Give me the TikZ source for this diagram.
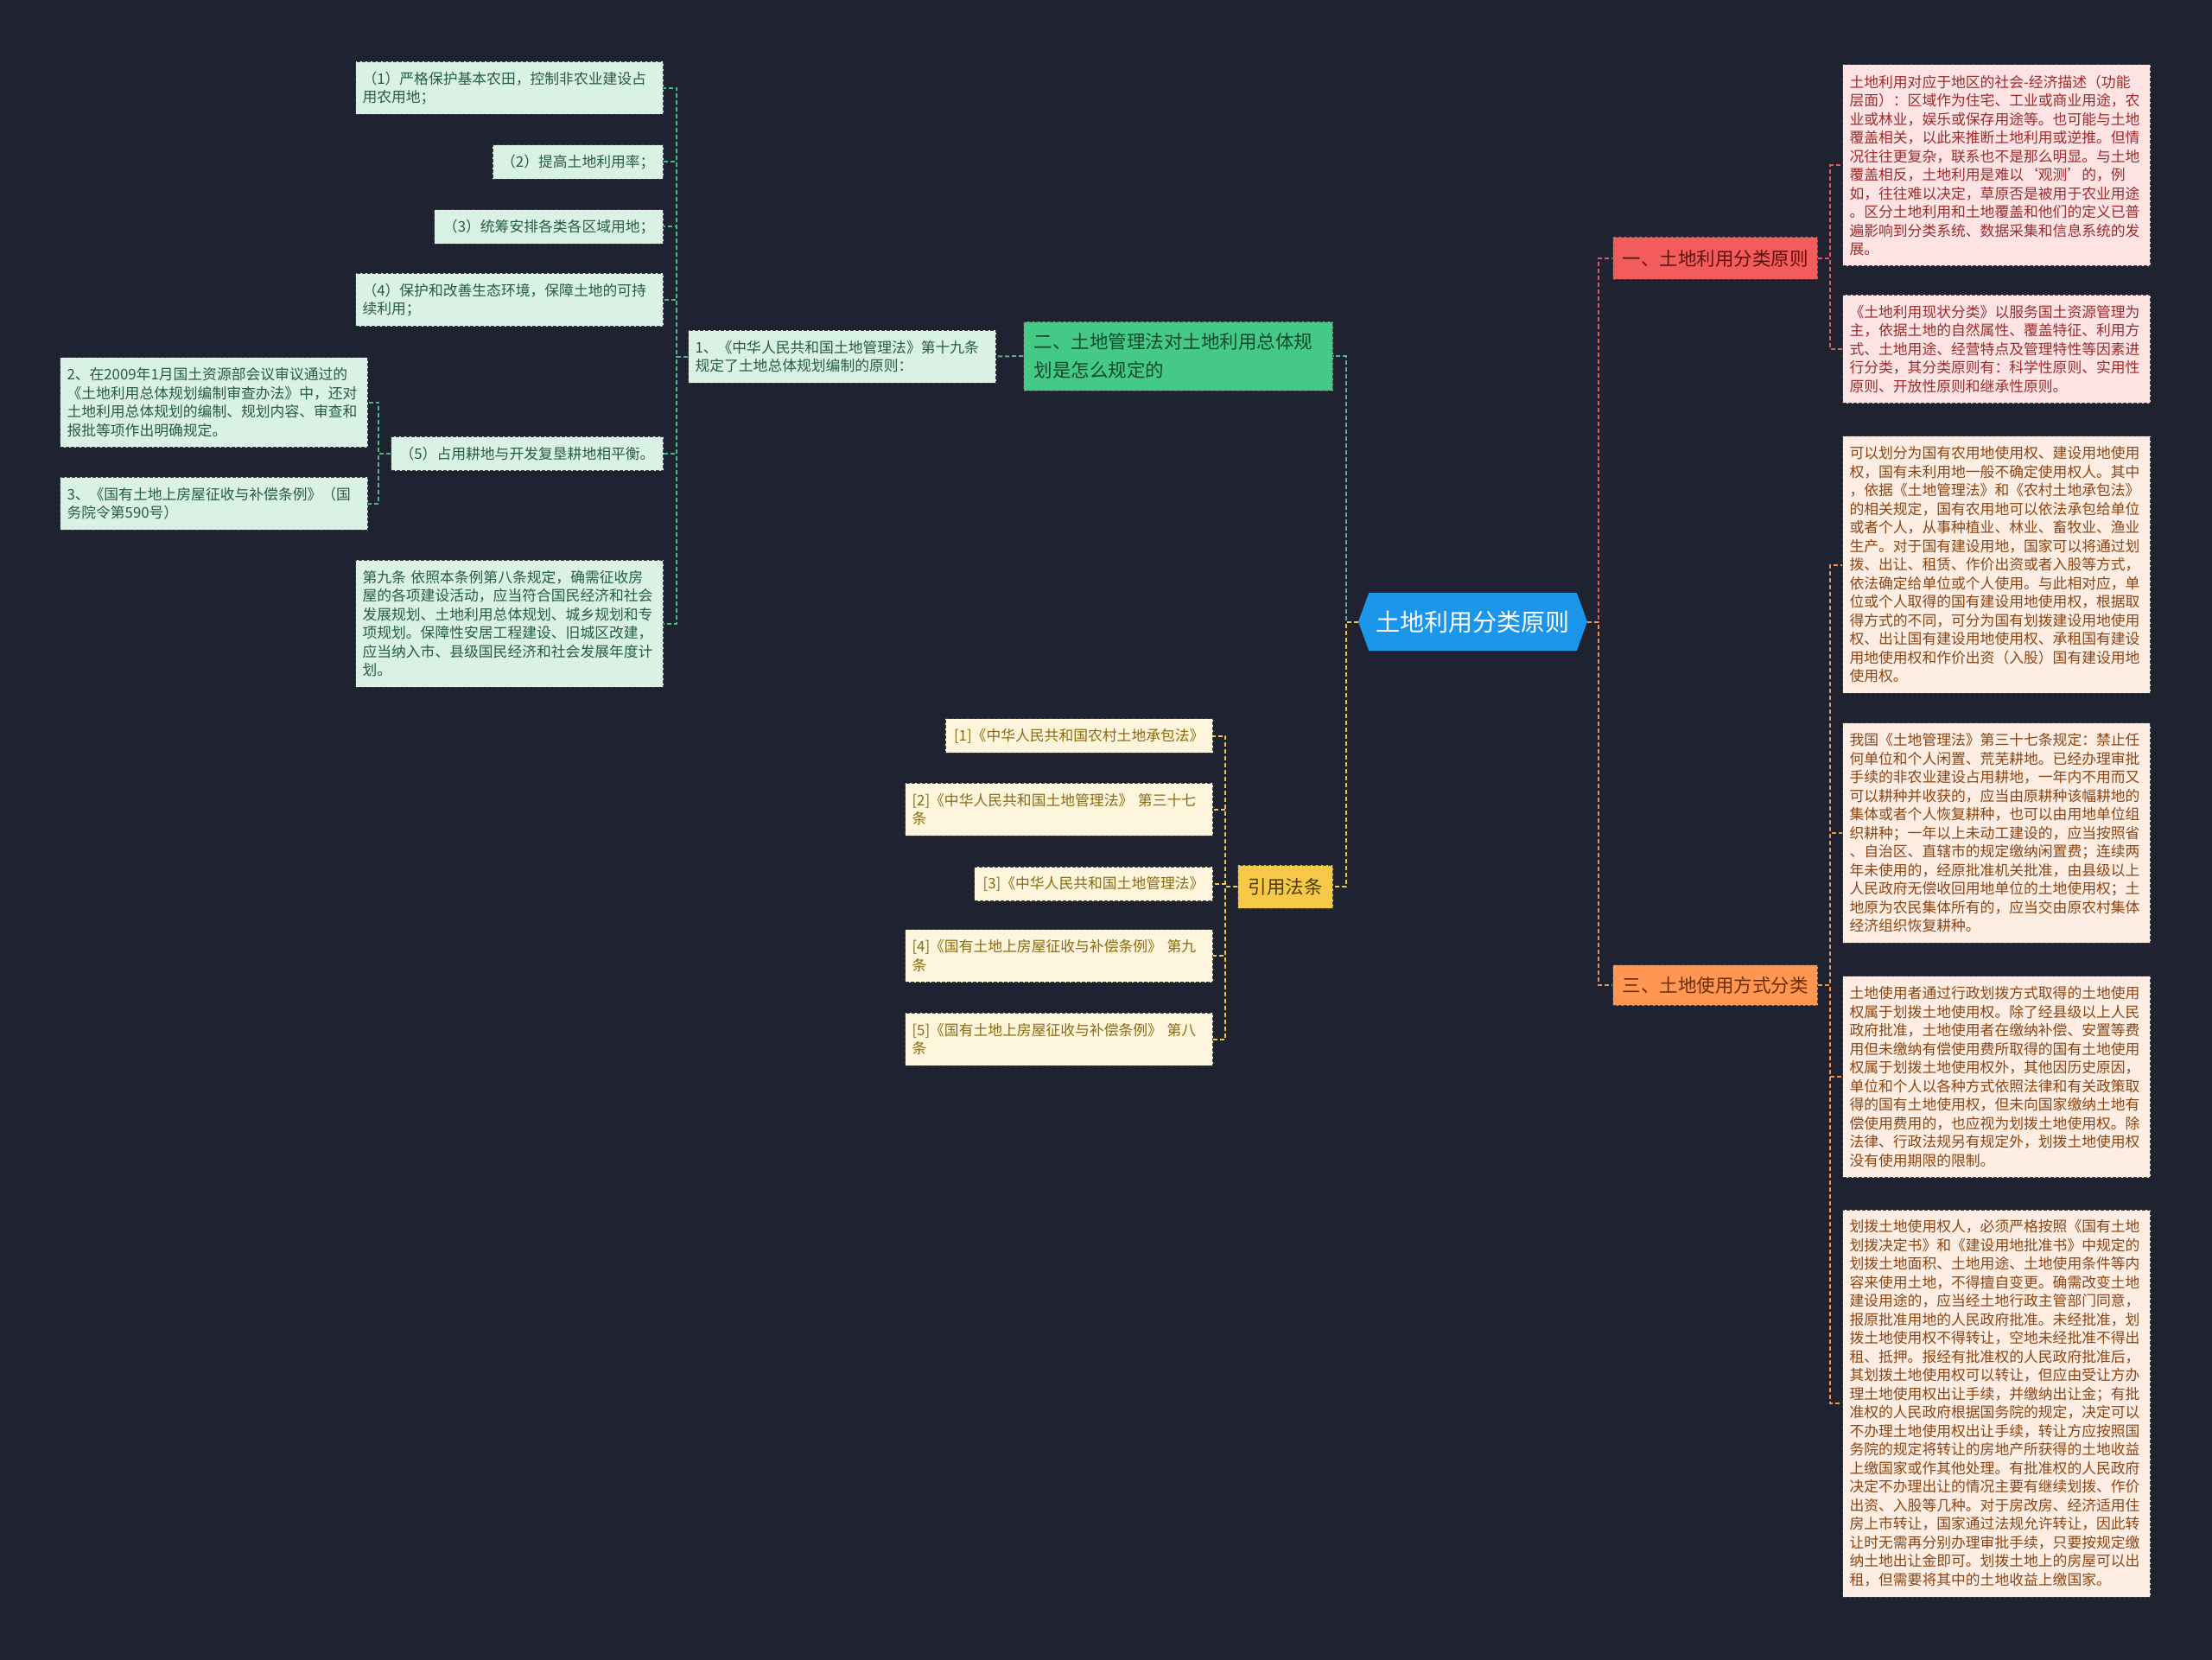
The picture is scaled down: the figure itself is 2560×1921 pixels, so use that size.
\documentclass[tikz,border=0pt]{standalone}
\usepackage{fontspec}
\newfontfamily\cjk{Noto Sans CJK SC}
\usetikzlibrary{shapes.symbols}

\definecolor{bgnavy}{HTML}{1F2230}
\definecolor{rootblue}{HTML}{1C96EA}
\definecolor{redfill}{HTML}{F25C5C}
\definecolor{redtext}{HTML}{5E1010}
\definecolor{orfill}{HTML}{FF9753}
\definecolor{ortext}{HTML}{6B2E0A}
\definecolor{grfill}{HTML}{44C987}
\definecolor{grtext}{HTML}{124A2D}
\definecolor{yefill}{HTML}{F7C948}
\definecolor{yetext}{HTML}{4D3B00}
\definecolor{pinkfill}{HTML}{FDE3E3}
\definecolor{pinktext}{HTML}{9B2C2C}
\definecolor{peachfill}{HTML}{FDEDE3}
\definecolor{peachtext}{HTML}{8B4513}
\definecolor{mintfill}{HTML}{D9F2E5}
\definecolor{minttext}{HTML}{275C43}
\definecolor{creamfill}{HTML}{FDF6DC}
\definecolor{creamtext}{HTML}{8A6A12}
\definecolor{lnred}{HTML}{E05A5A}
\definecolor{lnorange}{HTML}{F0904A}
\definecolor{lngreen}{HTML}{45B883}
\definecolor{lnyellow}{HTML}{F2C640}

\begin{document}
\begin{tikzpicture}[x=0.5pt,y=-0.5pt,
  box/.style={draw=black!75, dash pattern=on 2pt off 1pt, line width=0.5pt,
    inner xsep=5pt, inner ysep=2pt, align=left},
  leaf/.style={box, font=\cjk\fontsize{8.4pt}{10.75pt}\selectfont},
  wide/.style={text width=170pt, inner xsep=4pt},
  nrows/.style={minimum height=#1*10.75pt+9pt},
  pinkleaf/.style={leaf, wide, fill=pinkfill, text=pinktext},
  peachleaf/.style={leaf, wide, fill=peachfill, text=peachtext},
  mintleaf/.style={leaf, fill=mintfill, text=minttext},
  creamleaf/.style={leaf, fill=creamfill, text=creamtext},
  branch/.style={box, font=\cjk\fontsize{10.75pt}{16.25pt}\selectfont},
  ln/.style={line width=1pt, dash pattern=on 2.5pt off 1.5pt},
  lnRed/.style={ln, draw=lnred},
  lnOrange/.style={ln, draw=lnorange},
  lnGreen/.style={ln, draw=lngreen},
  lnYellow/.style={ln, draw=lnyellow}]

% background and page size
\fill[bgnavy] (0,0) rectangle (2560,1921);
\useasboundingbox (0,0) rectangle (2560,1921);

% root
\node[signal, signal to=west and east, signal pointer angle=140, fill=rootblue,
  text=white, font=\cjk\fontsize{14pt}{16pt}\selectfont,
  minimum width=132.5pt, minimum height=33.5pt, inner sep=2pt] (root) at (1704.5,719.5) {土地利用分类原则};

% right side branches
\node[branch, fill=redfill, text=redtext, inner xsep=5.5pt, minimum height=24.5pt, anchor=west] (b1) at (1866,299) {一、土地利用分类原则};
\node[branch, fill=orfill, text=ortext, inner xsep=5.5pt, minimum height=23.5pt, anchor=west] (b3) at (1866,1140) {三、土地使用方式分类};

\node[pinkleaf, nrows=10, anchor=west] (r1) at (2132,191.5) {土地利用对应于地区的社会-经济描述（功能\\层面）：区域作为住宅、工业或商业用途，农\\业或林业，娱乐或保存用途等。也可能与土地\\覆盖相关，以此来推断土地利用或逆推。但情\\况往往更复杂，联系也不是那么明显。与土地\\覆盖相反，土地利用是难以‘观测’的，例\\如，往往难以决定，草原否是被用于农业用途\\。区分土地利用和土地覆盖和他们的定义已普\\遍影响到分类系统、数据采集和信息系统的发\\展。};
\node[pinkleaf, nrows=5, anchor=west] (r2) at (2132,404) {《土地利用现状分类》以服务国土资源管理为\\主，依据土地的自然属性、覆盖特征、利用方\\式、土地用途、经营特点及管理特性等因素进\\行分类，其分类原则有：科学性原则、实用性\\原则、开放性原则和继承性原则。};

\node[peachleaf, nrows=13, anchor=west] (r3) at (2132,653.5) {可以划分为国有农用地使用权、建设用地使用\\权，国有未利用地一般不确定使用权人。其中\\，依据《土地管理法》和《农村土地承包法》\\的相关规定，国有农用地可以依法承包给单位\\或者个人，从事种植业、林业、畜牧业、渔业\\生产。对于国有建设用地，国家可以将通过划\\拨、出让、租赁、作价出资或者入股等方式，\\依法确定给单位或个人使用。与此相对应，单\\位或个人取得的国有建设用地使用权，根据取\\得方式的不同，可分为国有划拨建设用地使用\\权、出让国有建设用地使用权、承租国有建设\\用地使用权和作价出资（入股）国有建设用地\\使用权。};
\node[peachleaf, nrows=11, anchor=west] (r4) at (2132,964) {我国《土地管理法》第三十七条规定：禁止任\\何单位和个人闲置、荒芜耕地。已经办理审批\\手续的非农业建设占用耕地，一年内不用而又\\可以耕种并收获的，应当由原耕种该幅耕地的\\集体或者个人恢复耕种，也可以由用地单位组\\织耕种；一年以上未动工建设的，应当按照省\\、自治区、直辖市的规定缴纳闲置费；连续两\\年未使用的，经原批准机关批准，由县级以上\\人民政府无偿收回用地单位的土地使用权；土\\地原为农民集体所有的，应当交由原农村集体\\经济组织恢复耕种。};
\node[peachleaf, nrows=10, anchor=west] (r5) at (2132,1246) {土地使用者通过行政划拨方式取得的土地使用\\权属于划拨土地使用权。除了经县级以上人民\\政府批准，土地使用者在缴纳补偿、安置等费\\用但未缴纳有偿使用费所取得的国有土地使用\\权属于划拨土地使用权外，其他因历史原因，\\单位和个人以各种方式依照法律和有关政策取\\得的国有土地使用权，但未向国家缴纳土地有\\偿使用费用的，也应视为划拨土地使用权。除\\法律、行政法规另有规定外，划拨土地使用权\\没有使用期限的限制。};
\node[peachleaf, nrows=20, anchor=west] (r6) at (2132,1624) {划拨土地使用权人，必须严格按照《国有土地\\划拨决定书》和《建设用地批准书》中规定的\\划拨土地面积、土地用途、土地使用条件等内\\容来使用土地，不得擅自变更。确需改变土地\\建设用途的，应当经土地行政主管部门同意，\\报原批准用地的人民政府批准。未经批准，划\\拨土地使用权不得转让，空地未经批准不得出\\租、抵押。报经有批准权的人民政府批准后，\\其划拨土地使用权可以转让，但应由受让方办\\理土地使用权出让手续，并缴纳出让金；有批\\准权的人民政府根据国务院的规定，决定可以\\不办理土地使用权出让手续，转让方应按照国\\务院的规定将转让的房地产所获得的土地收益\\上缴国家或作其他处理。有批准权的人民政府\\决定不办理出让的情况主要有继续划拨、作价\\出资、入股等几种。对于房改房、经济适用住\\房上市转让，国家通过法规允许转让，因此转\\让时无需再分别办理审批手续，只要按规定缴\\纳土地出让金即可。划拨土地上的房屋可以出\\租，但需要将其中的土地收益上缴国家。};

% left side branches
\node[branch, fill=grfill, text=grtext, text width=167pt, inner xsep=6pt, minimum height=40pt, anchor=east] (b2) at (1543,412) {二、土地管理法对土地利用总体规\\划是怎么规定的};
\node[branch, fill=yefill, text=yetext, inner xsep=6pt, minimum height=25pt, anchor=east] (cite) at (1543,1026) {引用法条};

\node[mintleaf, wide, nrows=2, anchor=east] (l1) at (1153,412.5) {1、《中华人民共和国土地管理法》第十九条\\规定了土地总体规划编制的原则：};

\node[mintleaf, wide, nrows=2, anchor=east] (p1) at (768,102) {（1）严格保护基本农田，控制非农业建设占\\用农用地；};
\node[mintleaf, nrows=1, anchor=east] (p2) at (768,187.5) {（2）提高土地利用率；};
\node[mintleaf, nrows=1, anchor=east] (p3) at (768,262.5) {（3）统筹安排各类各区域用地；};
\node[mintleaf, wide, nrows=2, anchor=east] (p4) at (768,347) {（4）保护和改善生态环境，保障土地的可持\\续利用；};
\node[mintleaf, nrows=1, anchor=east] (p5) at (768,525) {（5）占用耕地与开发复垦耕地相平衡。};
\node[mintleaf, wide, nrows=6, anchor=east] (p6) at (768,721.5) {第九条~依照本条例第八条规定，确需征收房\\屋的各项建设活动，应当符合国民经济和社会\\发展规划、土地利用总体规划、城乡规划和专\\项规划。保障性安居工程建设、旧城区改建，\\应当纳入市、县级国民经济和社会发展年度计\\划。};

\node[mintleaf, wide, nrows=4, anchor=east] (q2) at (426,465.5) {2、在2009年1月国土资源部会议审议通过的\\《土地利用总体规划编制审查办法》中，还对\\土地利用总体规划的编制、规划内容、审查和\\报批等项作出明确规定。};
\node[mintleaf, wide, nrows=2, anchor=east] (q3) at (426,582.5) {3、《国有土地上房屋征收与补偿条例》（国\\务院令第590号）};

\node[creamleaf, nrows=1, anchor=east] (c1) at (1404,851.5) {[1]《中华人民共和国农村土地承包法》};
\node[creamleaf, wide, nrows=2, anchor=east] (c2) at (1404,936.5) {[2]《中华人民共和国土地管理法》~第三十七\\条};
\node[creamleaf, nrows=1, anchor=east] (c3) at (1404,1023) {[3]《中华人民共和国土地管理法》};
\node[creamleaf, wide, nrows=2, anchor=east] (c4) at (1404,1106) {[4]《国有土地上房屋征收与补偿条例》~第九\\条};
\node[creamleaf, wide, nrows=2, anchor=east] (c5) at (1404,1202.5) {[5]《国有土地上房屋征收与补偿条例》~第八\\条};

% connectors
\draw[lnRed] (root.east) -- ++(13,0) |- (b1.west);
\draw[lnOrange] (root.east) -- ++(13,0) |- (b3.west);
\foreach \n in {r1,r2} \draw[lnRed] (b1.east) -- ++(14,0) |- (\n.west);
\foreach \n in {r3,r4,r5,r6} \draw[lnOrange] (b3.east) -- ++(14,0) |- (\n.west);

\draw[lnGreen] (root.west) -- ++(-14,0) |- (b2.east);
\draw[lnYellow] (root.west) -- ++(-14,0) |- (cite.east);
\draw[lnGreen] (b2.west) -- (l1.east);
\foreach \n in {p1,p2,p3,p4,p5,p6} \draw[lnGreen] (l1.west) -- ++(-13,0) |- (\n.east);
\foreach \n in {q2,q3} \draw[lnGreen] (p5.west) -- ++(-14,0) |- (\n.east);
\foreach \n in {c1,c2,c3,c4,c5} \draw[lnYellow] (cite.west) -- ++(-14,0) |- (\n.east);
\end{tikzpicture}
\end{document}
